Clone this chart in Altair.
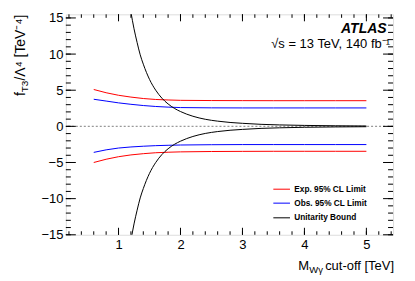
import altair as alt
import pandas as pd

# ---------------- data ----------------
mass_pts = [0.6, 0.8, 1.0, 1.2, 1.4, 1.6, 1.8, 2.0, 2.5, 3.0, 3.5, 4.0, 4.5, 5.0]
exp_upper = [5.1, 4.65, 4.3, 4.05, 3.85, 3.72, 3.65, 3.6, 3.57, 3.56, 3.55, 3.55, 3.55, 3.55]
exp_lower = [-5.0, -4.55, -4.2, -3.95, -3.78, -3.65, -3.58, -3.53, -3.48, -3.46, -3.45, -3.45, -3.45, -3.45]
obs_upper = [3.75, 3.5, 3.25, 3.05, 2.88, 2.75, 2.66, 2.6, 2.56, 2.55, 2.55, 2.55, 2.55, 2.55]
obs_lower = [-3.6, -3.25, -3.0, -2.85, -2.75, -2.67, -2.62, -2.58, -2.54, -2.52, -2.52, -2.52, -2.52, -2.52]

unit_mass = [1.20, 1.25, 1.30, 1.35, 1.40, 1.50, 1.60, 1.70, 1.80, 1.90, 2.00,
             2.20, 2.40, 2.60, 2.80, 3.00, 3.30, 3.60, 4.00, 4.50, 5.00]
unit_upper = [15.8, 13.5, 11.6, 9.9, 8.6, 6.5, 5.0, 3.9, 3.1, 2.5, 2.05,
              1.4, 0.98, 0.72, 0.54, 0.42, 0.28, 0.2, 0.13, 0.08, 0.05]
unit_lower = [-15.8, -13.5, -11.6, -9.9, -8.6, -6.5, -5.0, -3.9, -3.1, -2.5, -2.05,
              -1.4, -0.98, -0.72, -0.54, -0.42, -0.28, -0.2, -0.13, -0.08, -0.05]

series_keys = ["exp", "obs", "unit"]
series_labels = ["Exp. 95% CL Limit", "Obs. 95% CL Limit", "Unitarity Bound"]
series_colors = ["#ff0000", "#0000ff", "#000000"]

x_major = [1, 2, 3, 4, 5]
x_minor = [0.2, 0.4, 0.6, 0.8, 1.0, 1.2, 1.4, 1.6, 1.8, 2.0, 2.2, 2.4, 2.6, 2.8,
           3.0, 3.2, 3.4, 3.6, 3.8, 4.0, 4.2, 4.4, 4.6, 4.8, 5.0, 5.2, 5.4]
y_major = [-15, -10, -5, 0, 5, 10, 15]
y_minor = list(range(-15, 16))

# ---------------- layout ----------------
W, H = 328, 221
FONT = "Liberation Sans"
xs = alt.Scale(domain=[0.15, 5.43], nice=False, zero=False)
ys = alt.Scale(domain=[-15, 15.5], nice=False, zero=False)

x_axis = alt.Axis(values=x_major, format="d", ticks=False, domain=False, grid=False,
                  title=None, labelFontSize=13, labelPadding=4, labelFont=FONT,
                  labelColor="black", labelFlush=False)
y_axis = alt.Axis(values=y_major, format="d", ticks=False, domain=False, grid=False,
                  title=None, labelFontSize=13, labelPadding=3, labelFont=FONT,
                  labelColor="black", labelFlush=False, labelOverlap=False)

rows = []
for m, v in zip(mass_pts, exp_upper):
    rows.append({"m": m, "v": v, "s": "exp", "b": "exp_u"})
for m, v in zip(mass_pts, exp_lower):
    rows.append({"m": m, "v": v, "s": "exp", "b": "exp_l"})
for m, v in zip(mass_pts, obs_upper):
    rows.append({"m": m, "v": v, "s": "obs", "b": "obs_u"})
for m, v in zip(mass_pts, obs_lower):
    rows.append({"m": m, "v": v, "s": "obs", "b": "obs_l"})
lim_df = pd.DataFrame(rows)

urows = []
for m, v in zip(unit_mass, unit_upper):
    urows.append({"m": m, "v": v, "s": "unit", "b": "unit_u"})
for m, v in zip(unit_mass, unit_lower):
    urows.append({"m": m, "v": v, "s": "unit", "b": "unit_l"})
unit_df = pd.DataFrame(urows)

color = alt.Color("s:N", scale=alt.Scale(domain=series_keys, range=series_colors), legend=None)

zero_line = alt.Chart(pd.DataFrame({"v": [0]})).mark_rule(
    color="#999999", strokeWidth=1.3, strokeDash=[2, 2]
).encode(y=alt.Y("v:Q", scale=ys, axis=y_axis))

limits = alt.Chart(lim_df).mark_line(strokeWidth=1, clip=True).encode(
    x=alt.X("m:Q", scale=xs, axis=x_axis),
    y=alt.Y("v:Q", scale=ys, axis=y_axis),
    color=color,
    detail="b:N",
    order="m:Q",
)

unitarity = alt.Chart(unit_df).mark_line(strokeWidth=1, clip=True, interpolate="monotone").encode(
    x=alt.X("m:Q", scale=xs, axis=x_axis),
    y=alt.Y("v:Q", scale=ys, axis=y_axis),
    color=color,
    detail="b:N",
    order="m:Q",
)

def xticks(vals, y0, y1):
    return alt.Chart(pd.DataFrame({"m": vals})).mark_rule(color="black", strokeWidth=1).encode(
        x=alt.X("m:Q", scale=xs, axis=x_axis), y=alt.value(y0), y2=alt.value(y1))

def yticks(vals, x0, x1):
    return alt.Chart(pd.DataFrame({"v": vals})).mark_rule(color="black", strokeWidth=1).encode(
        y=alt.Y("v:Q", scale=ys, axis=y_axis), x=alt.value(x0), x2=alt.value(x1))

ticks = [
    xticks(x_major, H, H - 7), xticks(x_minor, H, H - 3.5),
    xticks(x_major, 0, 7), xticks(x_minor, 0, 3.5),
    yticks(y_major, 0, 10), yticks(y_minor, 0, 5),
    yticks(y_major, W, W - 10), yticks(y_minor, W, W - 5),
]

def label(text, x, y, size=13, align="left", baseline="alphabetic", angle=0,
          weight="normal", style="normal"):
    return alt.Chart(pd.DataFrame({"t": [text]})).mark_text(
        align=align, baseline=baseline, angle=angle, fontSize=size, font=FONT,
        fontWeight=weight, fontStyle=style, color="black"
    ).encode(text="t:N", x=alt.value(x), y=alt.value(y))

texts = [
    # x title
    label("M", 233, 256),
    label("Wγ", 244, 259.5, size=9.5),
    label("cut-off [TeV]", 329, 256, align="right"),
    # y title (rotated)
    label("f", -41, 82, angle=270, size=14),
    label("T3", -38, 78.1, angle=270, size=10),
    label("/Λ⁴ [TeV⁻⁴]", -41, 66.4, angle=270, size=14),
    # annotations
    label("ATLAS", 321.5, 19, size=14, align="right", weight="bold", style="italic"),
    label("√s = 13 TeV, 140 fb⁻¹", 325, 34, align="right"),
]

# manual legend
leg_y = [175.3, 189.3, 204]
legend_layers = []
for key, lab, col, yy in zip(series_keys, series_labels, series_colors, leg_y):
    legend_layers.append(
        alt.Chart(pd.DataFrame({"s": [key]})).mark_rule(color=col, strokeWidth=1).encode(
            x=alt.value(208), x2=alt.value(224.7), y=alt.value(yy)))
    legend_layers.append(label(lab, 229, yy + 0.5, size=8.3, baseline="middle", weight="bold"))

chart = alt.layer(
    zero_line, limits, unitarity, *ticks, *texts, *legend_layers
).properties(
    width=W, height=H,
    autosize=alt.AutoSizeParams(type="none"),
    padding={"left": 58, "top": 6, "right": 14, "bottom": 46},
).configure_view(stroke="black", strokeWidth=1).configure(background="white")

chart.save("out.html", embed_options={"renderer": "svg", "actions": False})
